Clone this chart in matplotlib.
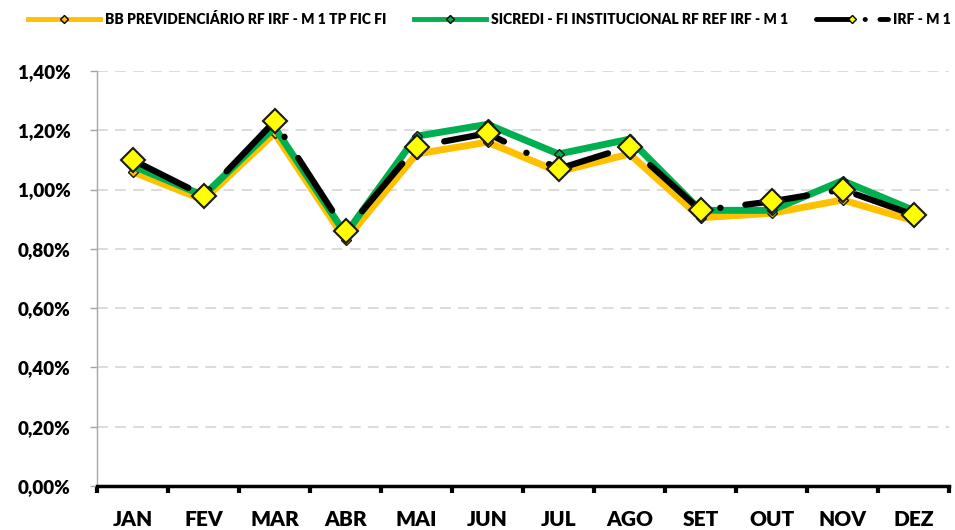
import matplotlib
matplotlib.use("Agg")
import matplotlib.pyplot as plt
from matplotlib.ticker import FixedLocator, FuncFormatter
from matplotlib.lines import Line2D
import numpy as np

months = ["JAN", "FEV", "MAR", "ABR", "MAI", "JUN", "JUL", "AGO", "SET", "OUT", "NOV", "DEZ"]
bb = [1.06, 0.965, 1.19, 0.83, 1.12, 1.16, 1.06, 1.12, 0.905, 0.92, 0.965, 0.895]
sicredi = [1.08, 0.98, 1.21, 0.85, 1.18, 1.22, 1.12, 1.17, 0.93, 0.93, 1.03, 0.93]
irf = [1.10, 0.98, 1.23, 0.86, 1.145, 1.19, 1.07, 1.145, 0.93, 0.96, 1.00, 0.915]
labels = ["BB PREVIDENCIÁRIO RF IRF - M 1 TP FIC FI",
          "SICREDI - FI INSTITUCIONAL RF REF IRF - M 1",
          "IRF - M 1"]
yticks = [0.0, 0.2, 0.4, 0.6, 0.8, 1.0, 1.2, 1.4]

FONT = "Lato"
plt.rcParams["font.family"] = [FONT, "DejaVu Sans"]
plt.rcParams["font.weight"] = "bold"

fig = plt.figure(figsize=(9.55, 5.30), dpi=100)
ax = fig.add_axes([97/955, 1 - 486/530, (949-97)/955, (486-71)/530])

x = np.arange(len(months))
l1, = ax.plot(x, bb, color="#FFC000", lw=5, marker="D", ms=5.5,
              mfc="#FFC000", mec="#1a1a1a", mew=1, zorder=3, solid_joinstyle="round")
l2, = ax.plot(x, sicredi, color="#00B050", lw=5, marker="D", ms=5.5,
              mfc="#00B050", mec="#1a1a1a", mew=1, zorder=4, solid_joinstyle="round")
l3, = ax.plot(x, irf, color="black", lw=4.5, marker="D", ms=12,
              mfc="#FFFF00", mec="#1a1a1a", mew=1.5, zorder=5,
              dash_capstyle="round", solid_capstyle="round")
l3.set_dashes((10, 4, 0.05, 4))

ax.set_xlim(-0.5, 11.5)
ax.set_ylim(0, 1.4)

ax.xaxis.set_major_locator(FixedLocator(np.arange(-0.5, 12.0, 1.0)))
ax.xaxis.set_minor_locator(FixedLocator(x))
ax.xaxis.set_major_formatter(FuncFormatter(lambda v, p: ""))
ax.xaxis.set_minor_formatter(FuncFormatter(lambda v, p: months[int(round(v))] if 0 <= round(v) < 12 else ""))
ax.tick_params(axis="x", which="major", direction="out", length=5, width=3, color="black")
ax.tick_params(axis="x", which="minor", length=0, pad=17, labelsize=15)
for t in ax.xaxis.get_minorticklabels():
    t.set_fontweight("heavy")

ax.yaxis.set_major_locator(FixedLocator(yticks))
ax.yaxis.set_major_formatter(FuncFormatter(lambda v, p: f"{v:.2f}%".replace(".", ",")))
ax.tick_params(axis="y", direction="out", length=5, width=1, color="#A6A6A6", pad=14, labelsize=13.5)
for t in ax.get_yticklabels():
    t.set_fontweight("heavy")

ax.grid(axis="y", color="#D9D9D9", lw=1.3, linestyle=(0, (6, 4)))
ax.set_axisbelow(True)
for s in ["top", "right"]:
    ax.spines[s].set_visible(False)
ax.spines["left"].set_color("#A6A6A6")
ax.spines["left"].set_linewidth(1)
ax.spines["bottom"].set_color("black")
ax.spines["bottom"].set_linewidth(2.5)

h1 = Line2D([], [], color="#FFC000", lw=3.5, marker="D", ms=4, mfc="#FFC000", mec="black", mew=1)
h2 = Line2D([], [], color="#00B050", lw=3.5, marker="D", ms=4, mfc="#00B050", mec="black", mew=1)
h3 = Line2D([], [], color="black", lw=3.5, marker="D", ms=4, mfc="#FFFF00", mec="black", mew=1,
            dash_capstyle="round")
h3.set_dashes((7, 3, 0.05, 3))
leg = fig.legend([h1, h2, h3], labels, loc="upper left", bbox_to_anchor=(28/955, 1 - 12/530),
                 ncol=3, frameon=False, handlelength=5.2, handletextpad=0.35,
                 columnspacing=2.0, prop={"family": [FONT, "DejaVu Sans"], "weight": "heavy", "size": 10},
                 borderaxespad=0, borderpad=0)

fig.savefig("out.png", dpi=100)
